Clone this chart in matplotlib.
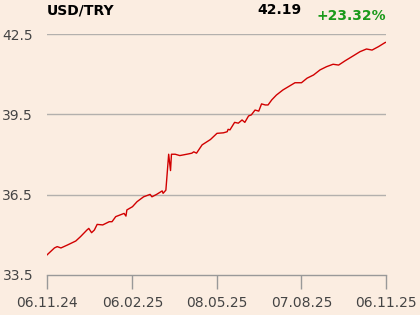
import matplotlib
matplotlib.use("Agg")
import matplotlib.pyplot as plt
import pandas as pd

dates = ["2024-11-06", "2024-11-14", "2024-11-17", "2024-11-21", "2024-11-28",
         "2024-12-07", "2024-12-12", "2024-12-19", "2024-12-21", "2024-12-24",
         "2024-12-27", "2024-12-30", "2025-01-05", "2025-01-12", "2025-01-15",
         "2025-01-19", "2025-01-28", "2025-01-30", "2025-01-31", "2025-02-06",
         "2025-02-11", "2025-02-18", "2025-02-25", "2025-02-27", "2025-03-04",
         "2025-03-10", "2025-03-11", "2025-03-14", "2025-03-17", "2025-03-19",
         "2025-03-20", "2025-03-24", "2025-03-29", "2025-04-07", "2025-04-11",
         "2025-04-13", "2025-04-16", "2025-04-22", "2025-05-01", "2025-05-08",
         "2025-05-15", "2025-05-19", "2025-05-20", "2025-05-22", "2025-05-27",
         "2025-05-31", "2025-06-04", "2025-06-07", "2025-06-11", "2025-06-14",
         "2025-06-18", "2025-06-22", "2025-06-25", "2025-06-29", "2025-07-02",
         "2025-07-06", "2025-07-11", "2025-07-18", "2025-07-31", "2025-08-07",
         "2025-08-13", "2025-08-20", "2025-08-27", "2025-09-03", "2025-09-10",
         "2025-09-16", "2025-09-23", "2025-10-02", "2025-10-09", "2025-10-16",
         "2025-10-22", "2025-10-29", "2025-11-05", "2025-11-06"]
values = [34.25, 34.51, 34.56, 34.51, 34.62,
          34.77, 34.93, 35.18, 35.24, 35.08,
          35.18, 35.39, 35.37, 35.49, 35.49,
          35.68, 35.80, 35.70, 35.93, 36.05,
          36.24, 36.42, 36.51, 36.42, 36.51,
          36.64, 36.55, 36.67, 38.01, 37.40,
          38.01, 38.01, 37.96, 38.02, 38.05,
          38.10, 38.05, 38.36, 38.56, 38.79,
          38.81, 38.85, 38.94, 38.92, 39.20,
          39.17, 39.29, 39.20, 39.44, 39.48,
          39.66, 39.62, 39.89, 39.85, 39.85,
          40.04, 40.22, 40.41, 40.68, 40.68,
          40.85, 40.97, 41.16, 41.28, 41.37,
          41.34, 41.50, 41.69, 41.84, 41.94,
          41.90, 42.03, 42.18, 42.19]

y_ticks = [33.5, 36.5, 39.5, 42.5]
x_ticks = ["2024-11-06", "2025-02-06", "2025-05-08", "2025-08-07", "2025-11-06"]
x_tick_labels = ["06.11.24", "06.02.25", "08.05.25", "07.08.25", "06.11.25"]
title = "USD/TRY"
last_value = "42.19"
change = "+23.32%"

bg = "#FBEDE1"
fig = plt.figure(figsize=(4.2, 3.15), dpi=100, facecolor=bg)
ax = fig.add_axes([47/420, 1-275/315, (386-47)/420, (275-34)/315], facecolor=bg)

d = pd.to_datetime(dates)
ax.plot(d, values, color="#D10000", lw=1.0, zorder=3)

ax.set_ylim(33.5, 42.5)
ax.set_xlim(pd.Timestamp(dates[0]), pd.Timestamp(dates[-1]))
ax.set_yticks(y_ticks)
ax.set_yticklabels([f"{v:.1f}" for v in y_ticks])
ax.set_xticks(pd.to_datetime(x_ticks))
ax.set_xticklabels(x_tick_labels)

for v in y_ticks[1:]:
    ax.axhline(v, color="#B3B0AD", lw=1.0, zorder=1)

for s in ["top", "right", "left"]:
    ax.spines[s].set_visible(False)
ax.spines["bottom"].set_color("#999999")
ax.spines["bottom"].set_linewidth(1.0)
ax.spines["bottom"].set_zorder(2)
ax.tick_params(axis="y", length=0, pad=10, labelsize=10, labelcolor="#444444")
ax.tick_params(axis="x", length=10, width=1.0, color="#999999", pad=5,
               labelsize=10, labelcolor="#444444")

fig.text(47/420, 1-10/315, title, fontsize=10, fontweight="bold", color="#000000",
         ha="left", va="center")
fig.text(302/420, 1-10/315, last_value, fontsize=10, fontweight="bold",
         color="#000000", ha="right", va="center")
fig.text(386/420, 1-16/315, change, fontsize=10, fontweight="bold",
         color="#1A9A1A", ha="right", va="center")

fig.savefig("out.png", dpi=100, facecolor=bg)
